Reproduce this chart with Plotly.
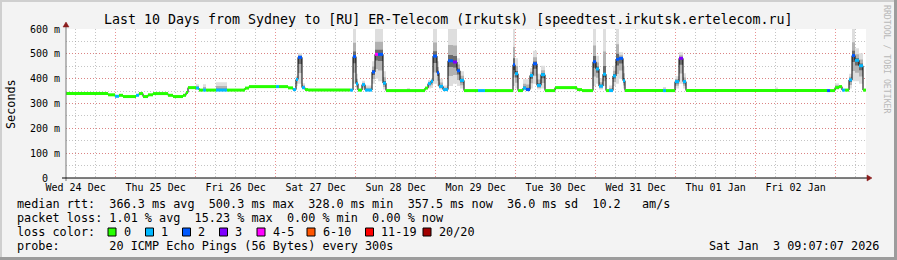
import pandas as pd
import plotly.graph_objects as go

# ---------------- data ----------------
start_time = "2025-12-24 09:07:07"
span_hours = 240.0

# step data: hours since start, median rtt (ms), loss class, smoke low/high (ms)
hours = [0.0, 12.6, 14.7, 15.9, 17.1, 21.0, 21.9, 23.1, 24.6, 26.1,
         30.6, 32.1, 35.1, 36.0, 36.6, 39.0, 39.9, 41.1, 42.0, 45.0,
         48.3, 53.7, 54.9, 63.0, 63.9, 66.6, 68.1, 69.0, 69.6, 70.8,
         71.7, 72.6, 85.2, 86.1, 87.0, 87.6, 88.8, 89.7, 91.8, 92.7,
         93.6, 95.1, 96.0, 102.3, 103.2, 107.7, 108.6, 109.5, 110.1, 111.3,
         111.9, 113.1, 114.6, 116.1, 117.3, 118.2, 119.4, 123.6, 125.7, 134.1,
         134.7, 135.6, 137.1, 138.0, 139.2, 140.1, 141.3, 142.5, 143.7, 146.7,
         153.3, 154.8, 158.1, 159.0, 159.9, 161.1, 162.0, 162.9, 164.1, 165.0,
         165.9, 167.1, 167.7, 179.1, 180.0, 182.7, 183.9, 185.1, 186.0, 212.7,
         213.6, 228.3, 229.2, 230.7, 231.9, 232.8, 233.7, 234.9, 235.8, 236.7,
         237.9, 239.1]
median_ms = [340, 335, 329, 333, 328, 333, 340, 328, 335, 340,
             333, 328, 333, 344, 364, 362, 354, 354, 354, 354,
             354, 362, 368, 368, 368, 363, 356, 397, 486, 364,
             356, 354, 354, 489, 380, 354, 376, 354, 427, 498,
             498, 382, 352, 352, 352, 362, 380, 390, 491, 424,
             369, 356, 472, 467, 432, 393, 352, 352, 352, 456,
             420, 352, 362, 356, 413, 460, 373, 416, 352, 364,
             356, 352, 468, 439, 370, 418, 352, 352, 411, 478,
             482, 392, 352, 352, 352, 388, 482, 388, 352, 352,
             352, 352, 352, 364, 368, 354, 354, 395, 493, 474,
             452, 354]
loss_class = [0, 0, 1, 0, 0, 1, 0, 0, 0, 0,
              0, 0, 0, 0, 0, 1, 0, 1, 0, 1,
              0, 0, 0, 1, 0, 0, 1, 1, 2, 1,
              0, 0, 1, 2, 1, 0, 1, 1, 2, 4,
              2, 1, 0, 0, 0, 0, 1, 1, 2, 2,
              1, 1, 2, 3, 2, 1, 0, 1, 0, 2,
              1, 0, 1, 2, 1, 2, 1, 1, 0, 0,
              0, 0, 2, 1, 1, 1, 0, 1, 1, 2,
              2, 1, 0, 1, 0, 1, 3, 1, 0, 0,
              0, 2, 0, 0, 0, 1, 0, 1, 2, 1,
              1, 0]
N = None
smoke_lo = [N, N, N, N, N, N, N, N, N, N,
            N, N, N, N, N, 358, N, 352, N, 352,
            N, N, N, N, N, N, N, 370, 380, 356,
            N, N, N, 380, 356, N, 356, 352, 380, 400,
            390, 356, N, 352, N, N, 360, 362, 380, 370,
            356, 352, 370, 380, 370, 360, N, N, N, 370,
            360, N, 352, 352, 360, 380, 356, 360, N, N,
            N, N, 370, 380, 356, 370, N, 352, 370, 380,
            400, 360, N, 352, N, 360, 380, 360, N, 352,
            N, N, N, 356, 360, N, N, 360, 390, 390,
            380, N]
smoke_hi = [N, N, N, N, N, N, N, N, N, N,
            N, N, N, N, N, 378, N, 378, N, 386,
            N, N, N, N, N, N, N, 412, 503, 382,
            N, N, N, 600, 420, N, 392, 372, 470, 600,
            600, 430, N, 362, N, N, 395, 402, 600, 470,
            400, 372, 600, 600, 482, 430, N, N, N, 600,
            482, N, 398, 398, 442, 512, 420, 452, N, N,
            N, N, 600, 492, 402, 600, N, 372, 452, 600,
            506, 452, N, 366, N, 410, 506, 422, N, 364,
            N, N, N, 382, 374, N, N, 420, 600, 522,
            502, N]

loss_labels = ["0", "1", "2", "3", "4-5", "6-10", "11-19", "20/20"]
loss_colors = ["#26ff00", "#00b8ff", "#0059ff", "#7e00ff",
               "#ff00ff", "#ff5500", "#ff0000", "#a10000"]

y_tickvals = [0, 100, 200, 300, 400, 500, 600]
y_ticktext = ["0\u00a0\u00a0", "100 m", "200 m", "300 m", "400 m", "500 m", "600 m"]

title_text = "Last 10 Days from Sydney to [RU] ER-Telecom (Irkutsk) [speedtest.irkutsk.ertelecom.ru]"
stat_rows = [
    "median rtt:  366.3 ms avg  500.3 ms max  328.0 ms min  357.5 ms now  36.0 ms sd  10.2   am/s",
    "packet loss: 1.01 % avg  15.23 % max  0.00 % min  0.00 % now",
]
probe_row = "probe:       20 ICMP Echo Pings (56 Bytes) every 300s"
stamp = "Sat Jan  3 09:07:07 2026"

# ---------------- build ----------------
FONT = "DejaVu Sans Mono"
LEG = 11.8
W, H = 897, 260
L, R, T, B = 66, 866, 29, 178  # plot area in px


def px(x):
    return (x - L) / (R - L)


def py(y):
    return (B - y) / (B - T)


def nb(s):
    return s.replace(" ", "\u00a0")


t0 = pd.Timestamp(start_time)
t_start = [t0 + pd.Timedelta(hours=h) for h in hours]
t_stop = t_start[1:] + [t0 + pd.Timedelta(hours=span_hours)]

fig = go.Figure()


def smoke_band(f_lo, f_hi, color):
    xs, ys = [], []
    for a, b, v, lo, hi in zip(t_start, t_stop, median_ms, smoke_lo, smoke_hi):
        if hi is None:
            continue
        lo = v if lo is None else lo
        y0 = v - (v - lo) * f_lo
        y1 = v + (hi - v) * f_hi
        xs += [a, b, b, a, a, None]
        ys += [y0, y0, y1, y1, y0, None]
    fig.add_trace(go.Scatter(x=xs, y=ys, mode="lines", fill="toself",
                             fillcolor=color, line=dict(width=0),
                             hoverinfo="skip", showlegend=False))


smoke_band(1.0, 1.0, "#dedede")
smoke_band(0.6, 0.5, "#b2b2b2")
smoke_band(0.25, 0.18, "#6a6a6a")

# black median step line
fig.add_trace(go.Scatter(x=t_start + [t_stop[-1]], y=median_ms + [median_ms[-1]],
                         mode="lines", line=dict(color="black", width=1, shape="hv"),
                         hoverinfo="skip", showlegend=False))

# coloured median by loss class
for c, col in enumerate(loss_colors):
    xs, ys = [], []
    for a, b, v, lc in zip(t_start, t_stop, median_ms, loss_class):
        if lc == c:
            xs += [a, b, None]
            ys += [v, v, None]
    if xs:
        fig.add_trace(go.Scatter(x=xs, y=ys, mode="lines",
                                 line=dict(color=col, width=3),
                                 hoverinfo="skip", showlegend=False))

x_end = t0 + pd.Timedelta(hours=span_hours)
major_grid = "rgba(225,110,110,0.75)"
minor_grid = "rgba(150,150,150,0.55)"

fig.update_xaxes(
    type="date", range=[t0, x_end], tick0="2025-12-24", dtick=86400000,
    tickformat="%a %d %b", ticklabelmode="period",
    showgrid=True, gridcolor=major_grid, griddash="1px,2px", gridwidth=1,
    minor=dict(dtick=6 * 3600000, tick0="2025-12-24", showgrid=True,
               gridcolor=minor_grid, griddash="1px,2px", gridwidth=1),
    showline=False, zeroline=False, ticks="", ticklabelstandoff=2,
    tickfont=dict(family=FONT, size=10, color="black"), fixedrange=True,
)
fig.update_yaxes(
    range=[0, 600], tickvals=y_tickvals, ticktext=y_ticktext,
    showgrid=True, gridcolor=major_grid, griddash="1px,2px", gridwidth=1,
    minor=dict(dtick=50, tick0=0, showgrid=True, gridcolor=minor_grid,
               griddash="1px,2px", gridwidth=1),
    showline=False, zeroline=False, ticks="", ticklabelstandoff=5,
    tickfont=dict(family=FONT, size=10, color="black"), fixedrange=True,
)

shapes = []
# frame
shapes.append(dict(type="line", xref="paper", yref="paper", x0=px(0), x1=px(W), y0=py(1), y1=py(1),
                   line=dict(color="#cfcfcf", width=2)))
shapes.append(dict(type="line", xref="paper", yref="paper", x0=px(1), x1=px(1), y0=py(0), y1=py(H),
                   line=dict(color="#cfcfcf", width=2)))
shapes.append(dict(type="line", xref="paper", yref="paper", x0=px(0), x1=px(W), y0=py(H - 1.5), y1=py(H - 1.5),
                   line=dict(color="#9c9c9c", width=3)))
shapes.append(dict(type="line", xref="paper", yref="paper", x0=px(W - 1.5), x1=px(W - 1.5), y0=py(0), y1=py(H),
                   line=dict(color="#9c9c9c", width=3)))
# axes
shapes.append(dict(type="line", xref="paper", yref="paper", x0=px(L), x1=px(L), y0=py(B + 3), y1=py(T - 4),
                   line=dict(color="#777777", width=1)))
shapes.append(dict(type="line", xref="paper", yref="paper", x0=px(L - 4), x1=px(R + 2), y0=py(B), y1=py(B),
                   line=dict(color="black", width=1)))
arrow_col = "#8b1c1c"
shapes.append(dict(type="path", xref="paper", yref="paper",
                   path=f"M {px(R+1)},{py(B-3)} L {px(R+6)},{py(B)} L {px(R+1)},{py(B+3)} Z",
                   fillcolor=arrow_col, line=dict(color=arrow_col, width=0.5)))
shapes.append(dict(type="path", xref="paper", yref="paper",
                   path=f"M {px(L-3)},{py(T-2)} L {px(L)},{py(T-7)} L {px(L+3)},{py(T-2)} Z",
                   fillcolor=arrow_col, line=dict(color=arrow_col, width=0.5)))

annotations = []
annotations.append(dict(text=nb(title_text), xref="paper", yref="paper", x=px(448), y=py(19),
                        xanchor="center", yanchor="middle", showarrow=False,
                        font=dict(family=FONT, size=13.3, color="black")))
annotations.append(dict(text="Seconds", xref="paper", yref="paper", x=px(11), y=py(104),
                        xanchor="center", yanchor="middle", showarrow=False, textangle=-90,
                        font=dict(family=FONT, size=LEG, color="black")))
annotations.append(dict(text=nb("RRDTOOL / TOBI OETIKER"), xref="paper", yref="paper", x=px(887), y=py(59),
                        xanchor="center", yanchor="middle", showarrow=False, textangle=90,
                        font=dict(family=FONT, size=8.2, color="#b8b8b8")))

row_y = [204, 218, 232, 246]
for s, yy in zip(stat_rows, row_y[:2]):
    annotations.append(dict(text=nb(s), xref="paper", yref="paper", x=px(15), y=py(yy),
                            xanchor="left", yanchor="middle", showarrow=False,
                            font=dict(family=FONT, size=LEG, color="black")))
annotations.append(dict(text=nb("loss color:"), xref="paper", yref="paper", x=px(15), y=py(row_y[2]),
                        xanchor="left", yanchor="middle", showarrow=False,
                        font=dict(family=FONT, size=LEG, color="black")))
annotations.append(dict(text=nb(probe_row), xref="paper", yref="paper", x=px(15), y=py(row_y[3]),
                        xanchor="left", yanchor="middle", showarrow=False,
                        font=dict(family=FONT, size=LEG, color="black")))
annotations.append(dict(text=nb(stamp), xref="paper", yref="paper", x=px(881), y=py(row_y[3]),
                        xanchor="right", yanchor="middle", showarrow=False,
                        font=dict(family=FONT, size=LEG, color="black")))

square_x = [108, 145.5, 182.5, 219.5, 257, 307, 365.5, 423]
for sx, lab, col in zip(square_x, loss_labels, loss_colors):
    shapes.append(dict(type="rect", xref="paper", yref="paper", x0=px(sx), x1=px(sx + 8),
                       y0=py(row_y[2] + 4), y1=py(row_y[2] - 4),
                       fillcolor=col, line=dict(color="black", width=1)))
    annotations.append(dict(text=nb(lab), xref="paper", yref="paper", x=px(sx + 13.5), y=py(row_y[2]),
                            xanchor="left", yanchor="middle", showarrow=False,
                            font=dict(family=FONT, size=LEG, color="black")))

fig.update_layout(
    width=W, height=H, autosize=False,
    margin=dict(l=L, r=W - R, t=T, b=H - B, pad=0),
    paper_bgcolor="#f3f3f3", plot_bgcolor="white",
    shapes=shapes, annotations=annotations, showlegend=False,
    font=dict(family=FONT),
)

fig.write_html("out.html", config={"displayModeBar": False, "staticPlot": True})
